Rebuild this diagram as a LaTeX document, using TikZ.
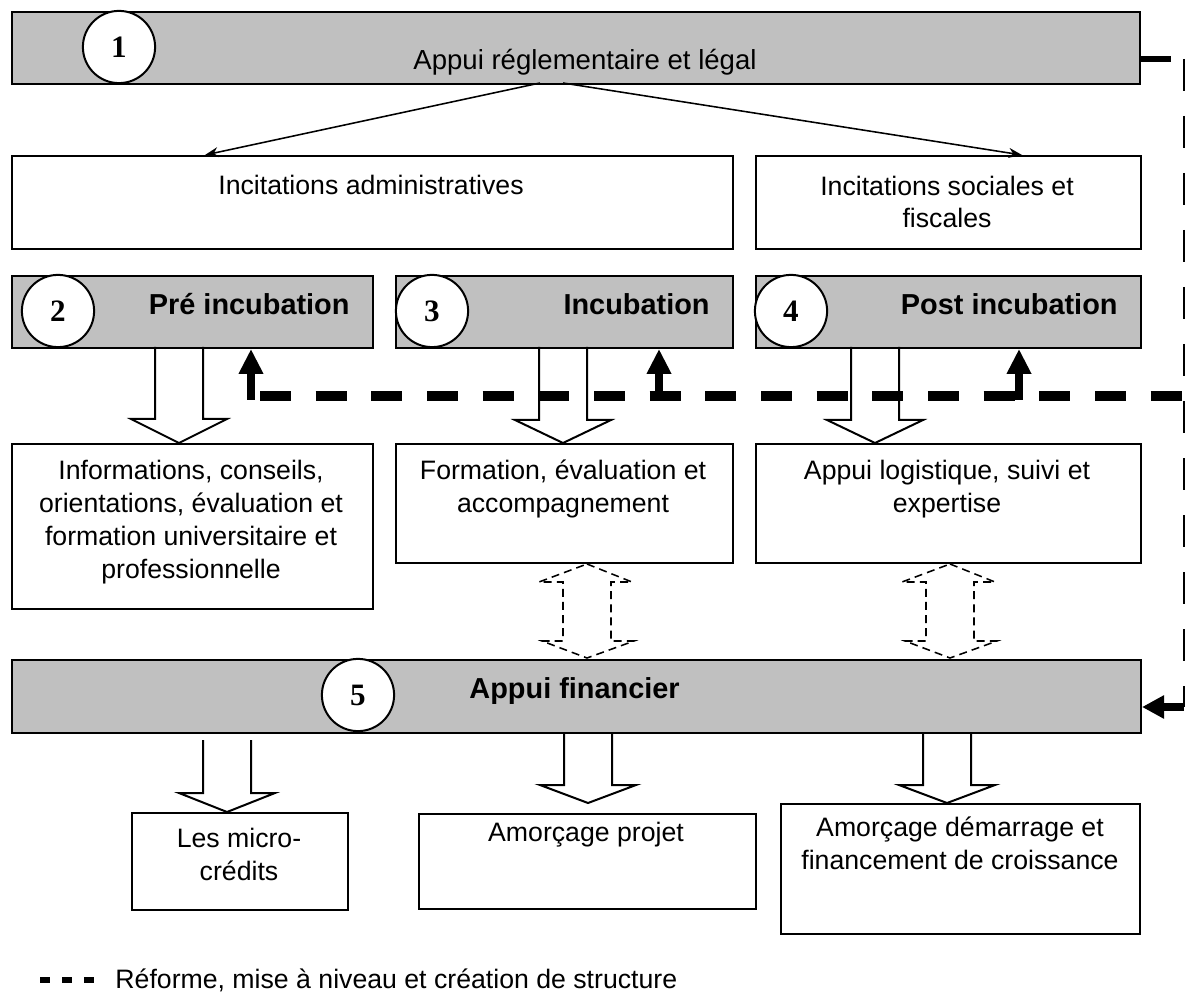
\documentclass[tikz,border=0pt]{standalone}
\usepackage{fontspec}
\setmainfont{Liberation Sans}
\newfontfamily\numfont{Liberation Serif}
\usetikzlibrary{arrows.meta}
\definecolor{bargray}{RGB}{192,192,192}

\begin{document}
\begin{tikzpicture}[x=0.45pt,y=-0.45pt,
  font=\fontsize{12}{14.8}\selectfont,
  wh/.style 2 args={minimum width=#1*0.45pt,minimum height=#2*0.45pt},
  box/.style={draw,line width=0.9pt,anchor=north west,inner sep=0pt},
  bar/.style={box,fill=bargray},
  num/.style={draw,circle,fill=white,line width=0.9pt,minimum size=32.5pt,
    inner sep=0pt,font=\numfont\bfseries\fontsize{14}{14}\selectfont},
  ttl/.style={anchor=base east,inner sep=0pt,font=\bfseries\fontsize{13}{15}\selectfont},
  txt/.style={anchor=base,align=center},
  hollow/.style={line width=0.9pt,line join=miter},
  twoway/.style={line width=0.7pt,dash pattern=on 3.6pt off 2.3pt},
  reform/.style={line width=4.2pt,dash pattern=on 13.95pt off 11.1pt},
  retour/.style={line width=1.1pt,dash pattern=on 14.4pt off 11.25pt},
  up/.style={line width=3.9pt,-{Triangle[width=10.4pt,length=11.2pt]}},
  thin/.style={line width=0.7pt,-{Stealth[length=6pt,width=4.5pt]}}]
  \useasboundingbox (0,0) rectangle (1185,995);
  % bandeau 1
  \node[bar,wh={1128}{72}] (reg) at (11,11) {};
  \node[num] (n1) at (119,47) {1};
  \node[txt,font=\fontsize{12.4}{15}\selectfont] (regt) at (585,70) {Appui réglementaire et légal};
  % incitations
  \node[box,wh={721}{93}] (adm) at (11,155) {};
  \node[box,wh={385}{93}] (soc) at (755,155) {};
  \node[txt] (admt) at (371,195) {Incitations administratives};
  \node[txt] (soct) at (947,228) {Incitations sociales et\\fiscales};
  \coordinate (r1) at (540,83); \coordinate (a1) at (205,155);
  \coordinate (r2) at (563,83); \coordinate (a2) at (1022,155);
  \draw[thin] (r1) -- (a1); \draw[thin] (r2) -- (a2);
  % phases 2, 3, 4
  \node[bar,wh={361}{72}] (pre) at (11,275) {};
  \node[bar,wh={337}{72}] (inc) at (395,275) {};
  \node[bar,wh={385}{72}] (post) at (755,275) {};
  \node[num] (n2) at (58,311) {2};
  \node[num] (n3) at (432,311) {3};
  \node[num] (n4) at (791,311) {4};
  \node[ttl] (pret) at (350,315) {Pré incubation};
  \node[ttl] (inct) at (710,315) {Incubation};
  \node[ttl] (postt) at (1118,315) {Post incubation};
  \node[box,wh={361}{165}] (info) at (11,443) {};
  \node[box,wh={337}{119}] (form) at (395,443) {};
  \node[box,wh={385}{119}] (logi) at (755,443) {};
  \node[txt] (infot) at (191,578) {Informations, conseils,\\orientations, évaluation et\\formation universitaire et\\professionnelle};
  \node[txt] (formt) at (563,512) {Formation, évaluation et\\accompagnement};
  \node[txt] (logit) at (947,512) {Appui logistique, suivi et\\expertise};
  % bandeau 5
  \node[bar,wh={1129}{73}] (fin) at (11,659) {};
  \node[num] (n5) at (358,695) {5};
  \node[ttl,anchor=base west] (fint) at (469,698) {Appui financier};
  \node[box,wh={216}{97}] (micro) at (131,812) {};
  \node[box,wh={337}{95}] (amp) at (418,813) {};
  \node[box,wh={359}{130}] (amd) at (780,803) {};
  \node[txt] (microt) at (239,880) {Les micro-\\crédits};
  \node[txt] (ampt) at (586,841) {Amorçage projet};
  \node[txt] (amdt) at (960,869) {Amorçage démarrage et\\financement de croissance};
  % fleches creuses
  \foreach \x/\a/\b/\c in {179/347/419/443,563/347/420/443,875/347/420/443,
      227/740/793/812,588/732/785/803,947/732/785/803}
    \draw[hollow] (\x-24,\a) -- (\x-24,\b) -- (\x-48,\b) -- (\x,\c)
      -- (\x+48,\b) -- (\x+24,\b) -- (\x+24,\a);
  \foreach \x in {587,950}
    \draw[twoway] (\x,564) -- (\x+45,582) -- (\x+24,582) -- (\x+24,641)
      -- (\x+47,641) -- (\x,658) -- (\x-45,641) -- (\x-24,641)
      -- (\x-24,582) -- (\x-48,582) -- cycle;
  % reforme et retour
  \coordinate (h0) at (260,396); \coordinate (h1) at (1186,396);
  \draw[reform] (h0) -- (h1);
  \coordinate (u1) at (251,400); \coordinate (u2) at (659,400);
  \coordinate (u3) at (1019,400);
  \draw[up] (u1) -- (u1 |- pre.south);
  \draw[up] (u2) -- (u2 |- inc.south);
  \draw[up] (u3) -- (u3 |- post.south);
  \coordinate (s1) at (1171,59);
  \draw[line width=2.7pt] (s1 -| reg.east) -- (s1);
  \coordinate (v0) at (1184,59); \coordinate (v1) at (1184,707);
  \draw[retour] (v0) -- (v1);
  \draw[line width=3.6pt,-{Triangle[width=10pt,length=10pt]}] (v1) -- (v1 -| fin.east);
  % legende
  \coordinate (l0) at (40,980); \coordinate (l1) at (96,980);
  \draw[line width=2.8pt,dash pattern=on 4.5pt off 5.4pt] (l0) -- (l1);
  \node[anchor=base west,inner sep=0pt] (leg) at (115,988) {Réforme, mise à niveau et création de structure};
\end{tikzpicture}
\end{document}
